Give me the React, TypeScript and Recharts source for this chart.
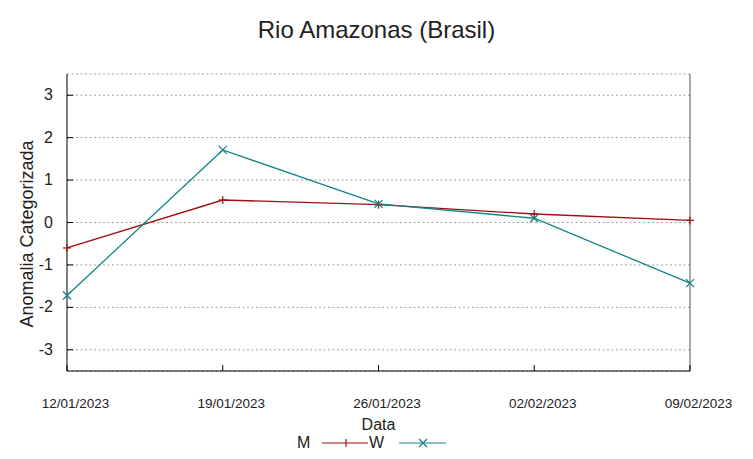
import React from 'react';
import { LineChart, Line, XAxis, YAxis, CartesianGrid, Legend } from 'recharts';

const dates = ['12/01/2023', '19/01/2023', '26/01/2023', '02/02/2023', '09/02/2023'];
const seriesM = [-0.6, 0.53, 0.42, 0.2, 0.05];
const seriesW = [-1.72, 1.71, 0.44, 0.1, -1.43];
const yTicks = [-3, -2, -1, 0, 1, 2, 3];

const data = dates.map((d, i) => ({ date: d, M: seriesM[i], W: seriesW[i] }));

const FONT = '"Liberation Sans", Arial, sans-serif';
const RED = '#a30d12';
const TEAL = '#138585';

const LeftTick = (props: any) => {
  const { x, y, payload } = props;
  return (
    <g>
      <text x={x} y={y + 5} textAnchor="end" fontSize={16} fontFamily={FONT} fill="#222">
        {payload.value}
      </text>
      <line x1={x + 14} x2={x + 20} y1={y} y2={y} stroke="#000" strokeWidth={1} />
    </g>
  );
};

const RightTick = (props: any) => {
  const { x, y } = props;
  return <line x1={x} x2={x - 6} y1={y} y2={y} stroke="#000" strokeWidth={1} />;
};

const BottomTick = (props: any) => {
  const { x, y, payload } = props;
  return (
    <g>
      <text x={x + 8.5} y={y + 37} textAnchor="middle" fontSize={13.5} fontFamily={FONT} fill="#222">
        {payload.value}
      </text>
      <line x1={x} x2={x} y1={y} y2={y - 6} stroke="#000" strokeWidth={1} />
    </g>
  );
};

const TopTick = (props: any) => {
  const { x, y } = props;
  return <line x1={x} x2={x} y1={y} y2={y + 6} stroke="#000" strokeWidth={1} />;
};

const PlusDot = (props: any) => {
  const { cx, cy } = props;
  if (cx == null || cy == null) return null;
  return (
    <g>
      <line x1={cx - 4} x2={cx + 4} y1={cy} y2={cy} stroke={RED} strokeWidth={1.2} />
      <line x1={cx} x2={cx} y1={cy - 4} y2={cy + 4} stroke={RED} strokeWidth={1.2} />
    </g>
  );
};

const CrossDot = (props: any) => {
  const { cx, cy } = props;
  if (cx == null || cy == null) return null;
  return (
    <g>
      <line x1={cx - 4} x2={cx + 4} y1={cy - 4} y2={cy + 4} stroke={TEAL} strokeWidth={1.2} />
      <line x1={cx - 4} x2={cx + 4} y1={cy + 4} y2={cy - 4} stroke={TEAL} strokeWidth={1.2} />
    </g>
  );
};

const LegendContent = () => (
  <svg width={170} height={24} style={{ display: 'block' }}>
    <text x={7} y={18} fontSize={16} fontFamily={FONT} fill="#222">M</text>
    <line x1={32} x2={78} y1={13} y2={13} stroke={RED} strokeWidth={1.2} />
    <line x1={56} x2={56} y1={9} y2={17} stroke={RED} strokeWidth={1.2} />
    <text x={79} y={18} fontSize={16} fontFamily={FONT} fill="#222">W</text>
    <line x1={109} x2={156} y1={13} y2={13} stroke={TEAL} strokeWidth={1.2} />
    <line x1={129} x2={137} y1={9} y2={17} stroke={TEAL} strokeWidth={1.2} />
    <line x1={129} x2={137} y1={17} y2={9} stroke={TEAL} strokeWidth={1.2} />
  </svg>
);

const YLabel = () => (
  <text
    x={33}
    y={234}
    transform="rotate(-90, 33, 234)"
    textAnchor="middle"
    fontSize={18}
    fontFamily={FONT}
    fill="#222"
  >
    Anomalia Categorizada
  </text>
);

export default function App() {
  return (
    <div style={{ position: 'absolute', left: 0, top: 0, width: 753, height: 459, background: '#fff' }}>
      <div
        style={{
          position: 'absolute',
          left: 0,
          top: 18,
          width: 753,
          textAlign: 'center',
          fontFamily: FONT,
          fontSize: 24,
          lineHeight: '24px',
          color: '#222',
        }}
      >
        Rio Amazonas (Brasil)
      </div>
      <LineChart
        width={753}
        height={459}
        data={data}
        margin={{ top: 74, right: 0, bottom: 0, left: 0 }}
      >
        <CartesianGrid
          xAxisId="b"
          yAxisId="l"
          horizontal
          vertical={false}
          stroke="#a0a0a0"
          strokeDasharray="2 2.5"
          horizontalPoints={undefined}
        />
        <XAxis
          dataKey="date"
          xAxisId="b"
          orientation="bottom"
          height={88}
          interval={0}
          tickSize={0}
          tickMargin={0}
          tick={<BottomTick />}
          tickLine={false}
          axisLine={{ stroke: '#000', strokeWidth: 1 }}
          label={{ value: 'Data', position: 'insideTop', offset: 47.5, fontSize: 16, fontFamily: FONT, fill: '#222' }}
        />
        <XAxis
          dataKey="date"
          xAxisId="t"
          orientation="top"
          height={0}
          interval={0}
          tickSize={0}
          tickMargin={0}
          tick={<TopTick />}
          tickLine={false}
          axisLine={{ stroke: '#555', strokeWidth: 1 }}
        />
        <YAxis
          yAxisId="l"
          orientation="left"
          type="number"
          width={67}
          domain={[-3.5, 3.5]}
          ticks={yTicks}
          interval={0}
          tickSize={0}
          tickMargin={14}
          tick={<LeftTick />}
          tickLine={false}
          axisLine={{ stroke: '#000', strokeWidth: 1 }}
          label={<YLabel />}
        />
        <YAxis
          yAxisId="r"
          orientation="right"
          type="number"
          width={63}
          domain={[-3.5, 3.5]}
          ticks={yTicks}
          interval={0}
          tickSize={0}
          tickMargin={0}
          tick={<RightTick />}
          tickLine={false}
          axisLine={{ stroke: '#555', strokeWidth: 1 }}
        />
        <Legend
          layout="horizontal"
          verticalAlign="middle"
          align="center"
          content={<LegendContent />}
          wrapperStyle={{ position: 'absolute', top: 430, left: 290, width: 170, height: 24 }}
        />
        <Line
          xAxisId="b"
          yAxisId="l"
          type="linear"
          dataKey="M"
          name="M"
          stroke={RED}
          strokeWidth={1.3}
          dot={<PlusDot />}
          activeDot={false}
          isAnimationActive={false}
        />
        <Line
          xAxisId="b"
          yAxisId="l"
          type="linear"
          dataKey="W"
          name="W"
          stroke={TEAL}
          strokeWidth={1.3}
          dot={<CrossDot />}
          activeDot={false}
          isAnimationActive={false}
        />
      </LineChart>
    </div>
  );
}
